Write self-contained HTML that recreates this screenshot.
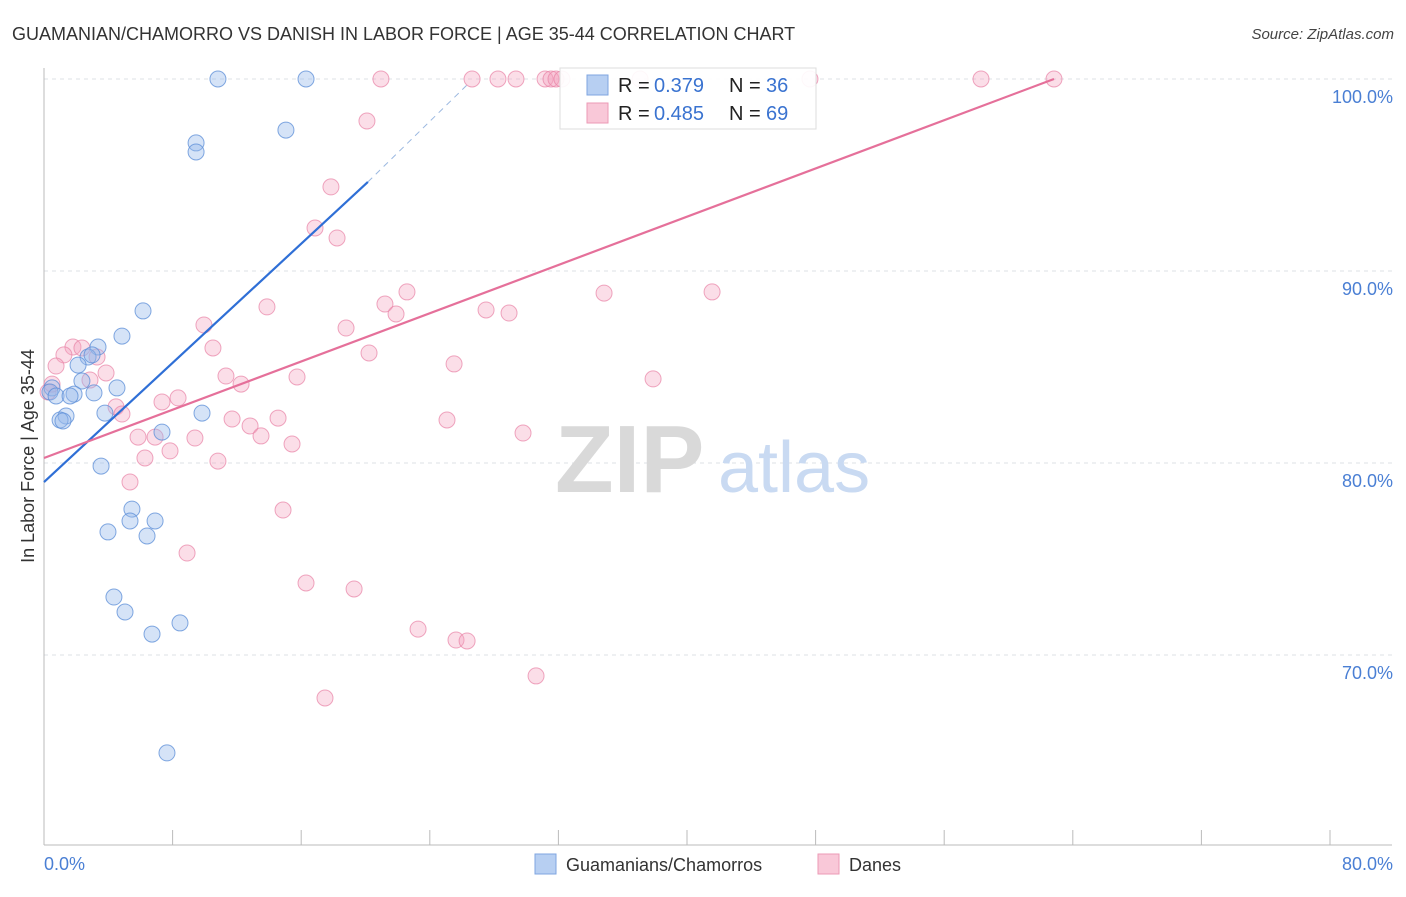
<!DOCTYPE html>
<html><head><meta charset="utf-8"><style>
body{margin:0;background:#fff;font-family:"Liberation Sans",sans-serif;}
svg text{font-family:"Liberation Sans",sans-serif;}
</style></head><body>
<svg id="c" width="1406" height="892" xmlns="http://www.w3.org/2000/svg"></svg>
<script>
const blueX=[10.82,16.30,9.46,9.46,15.05,6.16,4.85,3.36,2.74,2.99,2.12,2.36,4.54,0.50,0.37,0.75,1.87,3.11,1.62,3.79,9.83,1.37,1.00,1.18,7.34,3.55,5.47,5.35,6.91,3.98,6.41,4.35,5.04,8.46,6.72,7.65];
const blueY=[100,100,96.67,96.2,97.34,87.92,86.61,86.04,85.52,85.63,85.10,84.27,83.91,83.91,83.70,83.49,83.59,83.65,83.49,82.60,82.60,82.45,82.24,82.19,81.61,79.84,77.60,76.98,76.98,76.41,76.20,73.02,72.24,71.67,71.09,64.90];
const pinkX=[20.96,26.63,28.24,29.36,31.17,31.54,31.85,32.22,37.08,47.65,58.29,62.83,20.09,17.85,16.86,18.23,22.58,34.84,41.56,13.87,21.21,21.90,27.50,28.93,9.95,18.79,10.51,1.80,2.36,1.24,3.30,20.22,25.51,0.75,3.86,2.86,11.32,15.74,37.89,12.26,8.34,7.34,4.48,4.85,11.70,14.56,25.07,12.82,13.50,5.85,6.91,9.39,15.43,29.80,7.84,6.28,10.82,5.35,14.87,8.90,16.30,19.29,23.27,25.63,26.32,30.61,17.48,0.25,0.50];
const pinkY=[100,100,100,100,100,100,100,100,100,100,100,100,97.81,94.38,92.24,91.72,88.91,88.85,88.91,88.13,88.28,87.76,87.97,87.81,87.19,87.03,85.99,86.04,85.99,85.63,85.52,85.73,85.16,85.05,84.69,84.32,84.53,84.48,84.38,84.11,83.39,83.18,82.92,82.55,82.29,82.34,82.24,81.93,81.41,81.35,81.35,81.30,80.99,81.56,80.63,80.26,80.10,79.01,77.55,75.31,73.75,73.44,71.35,70.78,70.73,68.91,67.76,83.70,84.11];
const yTicks=[100,90,80,70];
const yTickLabels=["100.0%","90.0%","80.0%","70.0%"];
const blueTrend=[[0,79.01],[20.15,94.64]];
const blueDash=[[20.15,94.64],[26.5,99.84]];
const pinkTrend=[[0,80.26],[62.83,100]];

const NS="http://www.w3.org/2000/svg";
const svg=document.getElementById('c');
const sx=v=>44+v*(1286/80);
const sy=v=>79+(100-v)*19.2;
function el(t,a,p){const e=document.createElementNS(NS,t);for(const k in a)e.setAttribute(k,a[k]);(p||svg).appendChild(e);return e;}
function tx(x,y,s,a){const e=el('text',Object.assign({x:x,y:y},a));e.textContent=s;return e;}

yTicks.forEach((v,i)=>{
  const g=el('line',{x1:44,x2:1392,y1:sy(v),y2:sy(v),stroke:'#dde0e6','stroke-dasharray':'4,4'});
  
  
  const t=tx(1393,sy(v)+24,yTickLabels[i],{'text-anchor':'end','font-size':18,fill:'#4a7fd4'});
  
  
});
const ax=el('line',{x1:44,x2:44,y1:68,y2:845,stroke:'#bbb'});


const bx=el('line',{x1:44,x2:1392,y1:845,y2:845,stroke:'#bbb'});


for(let i=0;i<=10;i++){
  const x=sx(i*8);
  const t=el('line',{x1:x,x2:x,y1:830,y2:845,stroke:'#bbb'});
  
  
}
const wm=tx(555,492,'ZIP',{'font-size':96,fill:'#d9d9d9','font-family':'Liberation Serif',"font-weight":"bold"});


const wm2=tx(718,492,'atlas',{'font-size':72,fill:'#c9daf2'});



pinkX.forEach((v,i)=>{
  const c=el('circle',{cx:sx(v),cy:sy(pinkY[i]),r:8,fill:'rgba(244,160,190,0.35)',stroke:'rgba(232,130,165,0.7)','stroke-width':1});
  
  
});
blueX.forEach((v,i)=>{
  const c=el('circle',{cx:sx(v),cy:sy(blueY[i]),r:8,fill:'rgba(150,185,235,0.4)',stroke:'rgba(90,140,215,0.75)','stroke-width':1});
  
  
});
const tb=el('line',{x1:sx(blueTrend[0][0]),y1:sy(blueTrend[0][1]),x2:sx(blueTrend[1][0]),y2:sy(blueTrend[1][1]),stroke:'#2f6fd6','stroke-width':2.2});


const td=el('line',{x1:sx(blueDash[0][0]),y1:sy(blueDash[0][1]),x2:sx(blueDash[1][0]),y2:sy(blueDash[1][1]),stroke:'#9bb8e0','stroke-width':1,'stroke-dasharray':'6,5'});


const tp=el('line',{x1:sx(pinkTrend[0][0]),y1:sy(pinkTrend[0][1]),x2:sx(pinkTrend[1][0]),y2:sy(pinkTrend[1][1]),stroke:'#e5709a','stroke-width':2.2});



const lg=el('g',{});


el('rect',{x:560,y:68,width:256,height:61,fill:'rgba(255,255,255,0.92)',stroke:'#ddd'},lg);
el('rect',{x:587,y:75,width:21,height:20,fill:'#b7cff2',stroke:'#7fa6e0'},lg);
el('rect',{x:587,y:103,width:21,height:20,fill:'#f9c8d8',stroke:'#ec9ab6'},lg);
[[92,'0.379','36'],[120,'0.485','69']].forEach(r=>{
  tx(618,r[0],'R = ',{'font-size':20,fill:'#222'},lg);
  tx(654,r[0],r[1],{'font-size':20,fill:'#3a73d0'},lg);
  tx(729,r[0],'N = ',{'font-size':20,fill:'#222'},lg);
  tx(766,r[0],r[2],{'font-size':20,fill:'#3a73d0'},lg);
});

const tt=tx(12,40,'GUAMANIAN/CHAMORRO VS DANISH IN LABOR FORCE | AGE 35-44 CORRELATION CHART',{'font-size':18,fill:'#333'});


const src=tx(1394,39,'Source: ZipAtlas.com',{'font-size':15,fill:'#444','text-anchor':'end','font-style':'italic'});


const yt=tx(0,0,'In Labor Force | Age 35-44',{'font-size':18,fill:'#333','text-anchor':'middle',transform:'translate(34,456) rotate(-90)'});


const x0=tx(44,870,'0.0%',{'font-size':18,fill:'#4a7fd4'});


const x1=tx(1393,870,'80.0%',{'font-size':18,fill:'#4a7fd4','text-anchor':'end'});


const b1=el('g',{});


el('rect',{x:535,y:854,width:21,height:20,fill:'#b7cff2',stroke:'#7fa6e0'},b1);
tx(566,871,'Guamanians/Chamorros',{'font-size':18,fill:'#333'},b1);
const b2=el('g',{});


el('rect',{x:818,y:854,width:21,height:20,fill:'#f9c8d8',stroke:'#ec9ab6'},b2);
tx(849,871,'Danes',{'font-size':18,fill:'#333'},b2);
</script>
</body></html>
